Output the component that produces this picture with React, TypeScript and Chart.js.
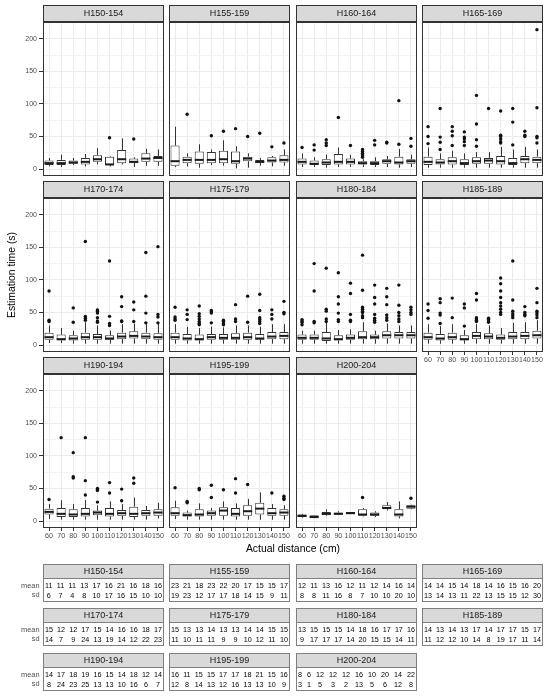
import React, { useEffect, useRef } from 'react';
import { Chart, registerables } from 'chart.js';

Chart.register(...registerables);

// ---------------- data ----------------
const distances = ['60', '70', '80', '90', '100', '110', '120', '130', '140', '150'];
const groups = [
  'H150-154', 'H155-159', 'H160-164', 'H165-169',
  'H170-174', 'H175-179', 'H180-184', 'H185-189',
  'H190-194', 'H195-199', 'H200-204',
];

const whiskerLow = [
  [4, 3, 6, 4, 7, 4, 7, 3, 5, 5],
  [3, 4, 2, 6, 5, 1, 2, 5, 4, 5],
  [3, 3, 2, 3, 3, 3, 3, 3, 2, 3],
  [2, 2, 2, 2, 2, 2, 2, 2, 2, 2],
  [3, 3, 2, 2, 2, 2, 2, 2, 2, 2],
  [2, 2, 2, 2, 2, 2, 2, 2, 2, 2],
  [2, 2, 2, 2, 2, 2, 2, 2, 2, 2],
  [2, 2, 2, 2, 2, 2, 2, 2, 2, 2],
  [3, 2, 2, 2, 2, 2, 2, 2, 2, 4],
  [3, 2, 2, 2, 2, 2, 2, 2, 2, 2],
  [5, 5, 8, 9, 11, 7, 6, 16, 4, 18],
];
const q1 = [
  [6, 6, 8, 7, 11, 6, 9, 9, 11, 11],
  [5, 9, 8, 9, 9, 8, 12, 9, 10, 10],
  [7, 6, 6, 7, 7, 7, 6, 8, 7, 8],
  [6, 7, 7, 6, 8, 8, 7, 6, 9, 9],
  [8, 7, 7, 8, 8, 8, 9, 10, 9, 8],
  [8, 7, 7, 8, 8, 8, 8, 8, 9, 9],
  [8, 8, 6, 7, 8, 9, 9, 10, 10, 10],
  [8, 7, 8, 7, 9, 9, 8, 9, 9, 10],
  [10, 6, 6, 7, 9, 7, 8, 6, 8, 8],
  [8, 7, 7, 8, 8, 7, 8, 10, 8, 8],
  [6, 6, 9, 10, 11, 8, 8, 18, 7, 19],
];
const median = [
  [9, 9, 10, 11, 15, 7, 15, 11, 16, 17],
  [12, 14, 14, 14, 15, 12, 16, 11, 13, 14],
  [11, 8, 10, 11, 11, 9, 9, 12, 10, 12],
  [11, 10, 12, 9, 12, 13, 12, 9, 15, 14],
  [12, 9, 10, 12, 12, 10, 13, 14, 13, 12],
  [12, 10, 9, 12, 11, 11, 12, 10, 13, 14],
  [11, 11, 10, 9, 11, 12, 12, 15, 15, 15],
  [12, 10, 12, 9, 14, 13, 11, 13, 14, 15],
  [14, 11, 10, 11, 13, 11, 12, 11, 12, 13],
  [12, 9, 10, 12, 16, 11, 15, 19, 12, 13],
  [8, 6, 11, 11, 12, 10, 10, 20, 10, 22],
];
const q3 = [
  [13, 14, 13, 17, 21, 19, 29, 16, 24, 20],
  [36, 19, 27, 26, 28, 27, 19, 14, 18, 21],
  [16, 13, 15, 23, 16, 12, 12, 15, 19, 15],
  [19, 15, 18, 15, 18, 17, 20, 17, 20, 19],
  [19, 16, 15, 19, 17, 15, 19, 21, 19, 18],
  [19, 17, 16, 17, 17, 18, 19, 17, 20, 20],
  [16, 16, 20, 15, 16, 21, 16, 21, 20, 20],
  [19, 17, 19, 15, 20, 18, 16, 20, 20, 22],
  [19, 20, 18, 20, 16, 20, 17, 22, 17, 18],
  [21, 13, 18, 16, 21, 20, 24, 28, 20, 18],
  [10, 9, 14, 13, 14, 18, 13, 24, 18, 24],
];
const whiskerHigh = [
  [17, 22, 17, 23, 32, 20, 47, 18, 31, 30],
  [65, 24, 38, 30, 44, 35, 24, 17, 20, 30],
  [24, 18, 22, 33, 22, 15, 18, 20, 31, 22],
  [33, 24, 28, 24, 26, 26, 34, 30, 34, 30],
  [30, 26, 22, 35, 30, 22, 32, 33, 32, 32],
  [32, 28, 26, 28, 27, 30, 30, 28, 32, 32],
  [22, 22, 35, 23, 24, 35, 22, 33, 30, 30],
  [32, 29, 32, 23, 32, 30, 26, 34, 35, 38],
  [26, 32, 26, 32, 24, 30, 26, 36, 23, 28],
  [31, 16, 27, 20, 30, 27, 34, 44, 26, 24],
  [11, 9, 18, 15, 14, 20, 15, 29, 30, 25],
];
const outliers = [
  [[], [], [], [], [], [48], [], [46], [], []],
  [[], [84], [], [51], [58], [62], [50], [55], [34], [40]],
  [[33], [37, 29], [45, 40, 36], [79], [36], [30, 27, 24, 22, 20, 18], [44, 37], [41, 40], [105, 38], [47, 35]],
  [[65, 50, 39], [93, 49, 41, 30], [65, 58, 51, 36], [57, 49, 46, 42, 36], [113, 69, 45, 35], [93], [89, 52, 50, 46, 42, 40], [93, 72, 37], [58, 52, 50], [214, 94, 50, 48, 40]],
  [[83, 38, 36], [], [57, 35], [159, 44, 41, 38], [54, 52, 49, 42, 37, 35], [129, 44, 33, 30], [74, 59, 37, 36], [66, 54, 36], [142, 75, 49, 34], [151, 47, 43, 34]],
  [[58, 43, 40, 38], [54, 47, 39], [60, 48, 44, 40, 36, 33, 31], [53, 51, 49, 34], [38, 36, 33, 31], [62, 40, 36], [75, 35], [78, 53, 42, 39, 36, 33], [54, 47, 40], [67, 50, 48]],
  [[39, 37, 35, 31], [125, 83, 36, 34], [118, 55, 52, 40, 36], [111, 74, 63, 49, 39, 36], [95, 79, 47, 38, 36], [138, 84, 58, 55, 52, 50, 45, 42], [92, 73, 63, 47, 41, 38, 35], [87, 74, 62, 46, 42, 38], [92, 61, 50, 45, 40, 36], [58, 54, 50, 47]],
  [[63, 53, 41], [71, 65, 49, 46, 33], [72, 42], [63, 57, 29], [79, 69, 42, 40, 38, 36], [41, 39, 37, 35], [103, 94, 83, 73, 65, 60, 55, 50, 47], [129, 69, 52, 48, 45, 42], [59, 50, 47, 45], [87, 65, 52, 49, 46, 42]],
  [[33], [128], [105, 68, 66], [128, 62, 40], [50, 48, 47, 29], [59, 43], [49, 31], [66, 58], [], []],
  [[51], [30, 28], [50, 48], [55, 36], [48], [65, 43], [56], [], [43], [38, 35, 33]],
  [[], [], [], [], [], [36], [], [], [], [35]],
];

const tableMean = [
  [11, 11, 11, 13, 17, 16, 21, 16, 18, 16],
  [23, 21, 18, 23, 22, 20, 17, 15, 15, 17],
  [12, 11, 13, 16, 12, 11, 12, 14, 16, 14],
  [14, 14, 15, 14, 18, 14, 16, 15, 16, 20],
  [15, 12, 12, 17, 15, 14, 16, 16, 18, 17],
  [15, 13, 13, 14, 13, 13, 14, 14, 15, 15],
  [13, 15, 15, 15, 14, 18, 16, 17, 17, 16],
  [14, 13, 14, 13, 17, 14, 17, 17, 15, 17],
  [14, 17, 18, 19, 16, 15, 14, 18, 12, 14],
  [16, 11, 15, 15, 17, 17, 18, 21, 15, 16],
  [8, 6, 12, 12, 12, 16, 10, 20, 14, 22],
];
const tableSd = [
  [6, 7, 4, 8, 10, 17, 16, 15, 10, 10],
  [19, 23, 12, 17, 17, 18, 14, 15, 9, 11],
  [8, 8, 11, 16, 8, 7, 10, 10, 20, 10],
  [13, 14, 13, 11, 22, 13, 15, 15, 12, 30],
  [14, 7, 9, 24, 13, 19, 14, 12, 22, 23],
  [11, 10, 11, 11, 9, 9, 10, 12, 11, 10],
  [9, 17, 17, 17, 14, 20, 15, 15, 14, 11],
  [11, 12, 12, 10, 14, 8, 19, 17, 11, 14],
  [8, 24, 23, 25, 13, 13, 10, 16, 6, 7],
  [12, 8, 14, 13, 12, 16, 13, 13, 10, 9],
  [3, 1, 5, 3, 2, 13, 5, 6, 12, 8],
];

const yTicks = [0, 50, 100, 150, 200];

// ---------------- layout ----------------
const FONT = '"Liberation Sans", Arial, Helvetica, sans-serif';
const COL_LEFT = [43, 169, 296, 422];
const PANEL_W = 121;
const STRIP_TOP = [5, 181, 357];
const STRIP_H = 17;
const PLOT_H = 154;
const TABLE_TOP = [564, 608, 653];
const TABLE_STRIP_H = 15;
const TABLE_BODY_H = 23;
// grayscale text antialiasing (own compositing layer without background)
const GRAY_TEXT: any = { willChange: 'transform' };

function Panel({ idx }: { idx: number }) {
  const ref = useRef<HTMLCanvasElement | null>(null);
  const row = Math.floor(idx / 4);
  const col = idx % 4;
  const showX = row === 2 || (row === 1 && col === 3);
  const showY = col === 0;
  const axisW = showY ? 43 : 0;
  const axisH = showX ? 14 : 0;
  const left = COL_LEFT[col] - axisW;
  const top = STRIP_TOP[row] + STRIP_H;
  const width = PANEL_W + axisW;
  const height = PLOT_H + axisH;

  useEffect(() => {
    const canvas = ref.current;
    if (!canvas) return;
    const isMajor = (v: number) => yTicks.includes(v);

    const extras = {
      id: 'boxExtras',
      beforeDatasetsDraw(chart: any) {
        const { ctx } = chart;
        const xs = chart.scales.x;
        const ys = chart.scales.y;
        ctx.save();
        ctx.strokeStyle = '#333333';
        ctx.lineWidth = 1;
        distances.forEach((_, j) => {
          const x = Math.round(xs.getPixelForValue(j)) + 0.5;
          ctx.beginPath();
          ctx.moveTo(x, ys.getPixelForValue(whiskerHigh[idx][j]));
          ctx.lineTo(x, ys.getPixelForValue(q3[idx][j]));
          ctx.moveTo(x, ys.getPixelForValue(q1[idx][j]));
          ctx.lineTo(x, ys.getPixelForValue(whiskerLow[idx][j]));
          ctx.stroke();
        });
        ctx.restore();
      },
      afterDatasetsDraw(chart: any) {
        const { ctx } = chart;
        const ys = chart.scales.y;
        const meta = chart.getDatasetMeta(0);
        ctx.save();
        ctx.strokeStyle = '#1a1a1a';
        ctx.lineWidth = 2;
        meta.data.forEach((bar: any, j: number) => {
          const p = bar.getProps(['x', 'width'], true);
          const y = ys.getPixelForValue(median[idx][j]);
          ctx.beginPath();
          ctx.moveTo(p.x - p.width / 2, y);
          ctx.lineTo(p.x + p.width / 2, y);
          ctx.stroke();
        });
        ctx.restore();
      },
      afterDraw(chart: any) {
        const { ctx, chartArea: a } = chart;
        ctx.save();
        ctx.strokeStyle = '#333333';
        ctx.lineWidth = 1;
        ctx.strokeRect(a.left + 0.5, a.top + 0.5, a.right - a.left - 1, a.bottom - a.top - 1);
        ctx.restore();
      },
    };

    const chart = new Chart(canvas, {
      type: 'bar',
      data: {
        labels: distances,
        datasets: [
          {
            type: 'bar',
            data: distances.map((_, j) => [q1[idx][j], q3[idx][j]]),
            backgroundColor: '#ffffff',
            borderColor: '#333333',
            borderWidth: 1,
            borderSkipped: false,
            barPercentage: 0.75,
            categoryPercentage: 1,
            order: 2,
          } as any,
          {
            type: 'line',
            data: outliers[idx].flatMap((arr, j) => arr.map((v) => ({ x: distances[j], y: v }))),
            showLine: false,
            pointRadius: 1.7,
            pointBackgroundColor: '#111111',
            pointBorderWidth: 0,
            pointBorderColor: '#111111',
            order: 1,
          } as any,
        ],
      },
      options: {
        animation: false,
        responsive: false,
        events: [],
        layout: { padding: 0, autoPadding: false } as any,
        plugins: { legend: { display: false }, tooltip: { enabled: false } },
        scales: {
          x: {
            type: 'category',
            offset: true,
            afterFit: (s: any) => {
              s.height = axisH;
              s.paddingLeft = 0;
              s.paddingRight = 0;
              s.paddingTop = 0;
              s.paddingBottom = 0;
            },
            border: { display: false },
            grid: {
              color: '#ebebeb',
              lineWidth: 1,
              offset: false,
              drawTicks: showX,
              tickLength: 3,
              tickColor: '#333333',
            },
            ticks: {
              display: showX,
              autoSkip: false,
              maxRotation: 0,
              minRotation: 0,
              color: '#4d4d4d',
              font: { family: FONT, size: 7.1 },
              padding: 1,
            },
          },
          y: {
            type: 'linear',
            min: -10.75,
            max: 225.75,
            afterFit: (s: any) => {
              s.width = axisW;
              s.paddingLeft = 0;
              s.paddingRight = 0;
              s.paddingTop = 0;
              s.paddingBottom = 0;
            },
            border: { display: false },
            grid: {
              color: (c: any) => (c.tick && isMajor(c.tick.value) ? '#ebebeb' : '#f4f4f4'),
              lineWidth: 1,
              drawTicks: showY,
              tickLength: 4,
              tickColor: (c: any) => (c.tick && isMajor(c.tick.value) ? '#333333' : 'rgba(0,0,0,0)'),
            },
            ticks: {
              display: showY,
              stepSize: 25,
              includeBounds: false,
              autoSkip: false,
              color: '#4d4d4d',
              font: { family: FONT, size: 7 },
              padding: 2,
              callback: (v: any) => (isMajor(Number(v)) ? String(v) : ''),
            } as any,
          },
        },
      },
      plugins: [extras],
    } as any);
    return () => chart.destroy();
  }, [idx]);

  return (
    <div style={{ position: 'absolute', left, top, width, height }}>
      <canvas ref={ref} width={width} height={height} style={{ width, height, display: 'block' }} />
    </div>
  );
}

function StripBox({ left, top, height, border, label }: any) {
  return (
    <>
      <div
        style={{
          position: 'absolute',
          left,
          top,
          width: PANEL_W,
          height,
          boxSizing: 'border-box',
          border,
          background: '#d9d9d9',
        }}
      />
      <div
        style={{
          ...GRAY_TEXT,
          position: 'absolute',
          left,
          top,
          width: PANEL_W,
          height,
          color: '#1a1a1a',
          fontSize: 9,
          lineHeight: `${height}px`,
          textAlign: 'center',
        }}
      >
        {label}
      </div>
    </>
  );
}

function Strip({ idx }: { idx: number }) {
  const row = Math.floor(idx / 4);
  const col = idx % 4;
  return (
    <StripBox left={COL_LEFT[col]} top={STRIP_TOP[row]} height={STRIP_H} border="1px solid #333333" label={groups[idx]} />
  );
}

function StatTable({ idx }: { idx: number }) {
  const row = Math.floor(idx / 4);
  const col = idx % 4;
  const top = TABLE_TOP[row];
  return (
    <>
      <StripBox left={COL_LEFT[col]} top={top} height={TABLE_STRIP_H} border="1px solid #7f7f7f" label={groups[idx]} />
      <div
        style={{
          ...GRAY_TEXT,
          position: 'absolute',
          left: COL_LEFT[col],
          top: top + TABLE_STRIP_H,
          width: PANEL_W,
          height: TABLE_BODY_H,
          boxSizing: 'border-box',
          borderLeft: '1px solid #7f7f7f',
          borderRight: '1px solid #7f7f7f',
          borderBottom: '1px solid #7f7f7f',
          padding: '1.5px 1px 0 1px',
          display: 'grid',
          gridTemplateColumns: 'repeat(10, auto)',
          justifyContent: 'space-between',
          justifyItems: 'center',
          fontSize: 7.2,
          lineHeight: '9px',
          color: '#000000',
        }}
      >
        {tableMean[idx].map((v, j) => (
          <span key={'m' + j}>{v}</span>
        ))}
        {tableSd[idx].map((v, j) => (
          <span key={'s' + j}>{v}</span>
        ))}
      </div>
      {col === 0 && (
        <div
          style={{
            ...GRAY_TEXT,
            position: 'absolute',
            left: 0,
            top: top + TABLE_STRIP_H + 1.5,
            width: 39.5,
            textAlign: 'right',
            fontSize: 7.4,
            lineHeight: '9px',
            color: '#4d4d4d',
          }}
        >
          <div>mean</div>
          <div>sd</div>
        </div>
      )}
    </>
  );
}

export default function App() {
  return (
    <div
      style={{
        position: 'absolute',
        left: 0,
        top: 0,
        width: 550,
        height: 697,
        background: '#ffffff',
        fontFamily: FONT,
        overflow: 'hidden',
      }}
    >
      {groups.map((_, i) => (
        <Panel key={'p' + i} idx={i} />
      ))}
      {groups.map((_, i) => (
        <Strip key={'s' + i} idx={i} />
      ))}
      <div
        style={{
          position: 'absolute',
          left: 12 - 100,
          top: 275 - 6,
          width: 200,
          height: 12,
          lineHeight: '12px',
          fontSize: 10.4,
          textAlign: 'center',
          color: '#000000',
          transform: 'rotate(-90deg)',
        }}
      >
        Estimation time (s)
      </div>
      <div
        style={{
          ...GRAY_TEXT,
          position: 'absolute',
          left: 43,
          top: 543,
          width: 500,
          lineHeight: '12px',
          fontSize: 10.4,
          textAlign: 'center',
          color: '#000000',
        }}
      >
        Actual distance (cm)
      </div>
      {groups.map((_, i) => (
        <StatTable key={'t' + i} idx={i} />
      ))}
    </div>
  );
}
